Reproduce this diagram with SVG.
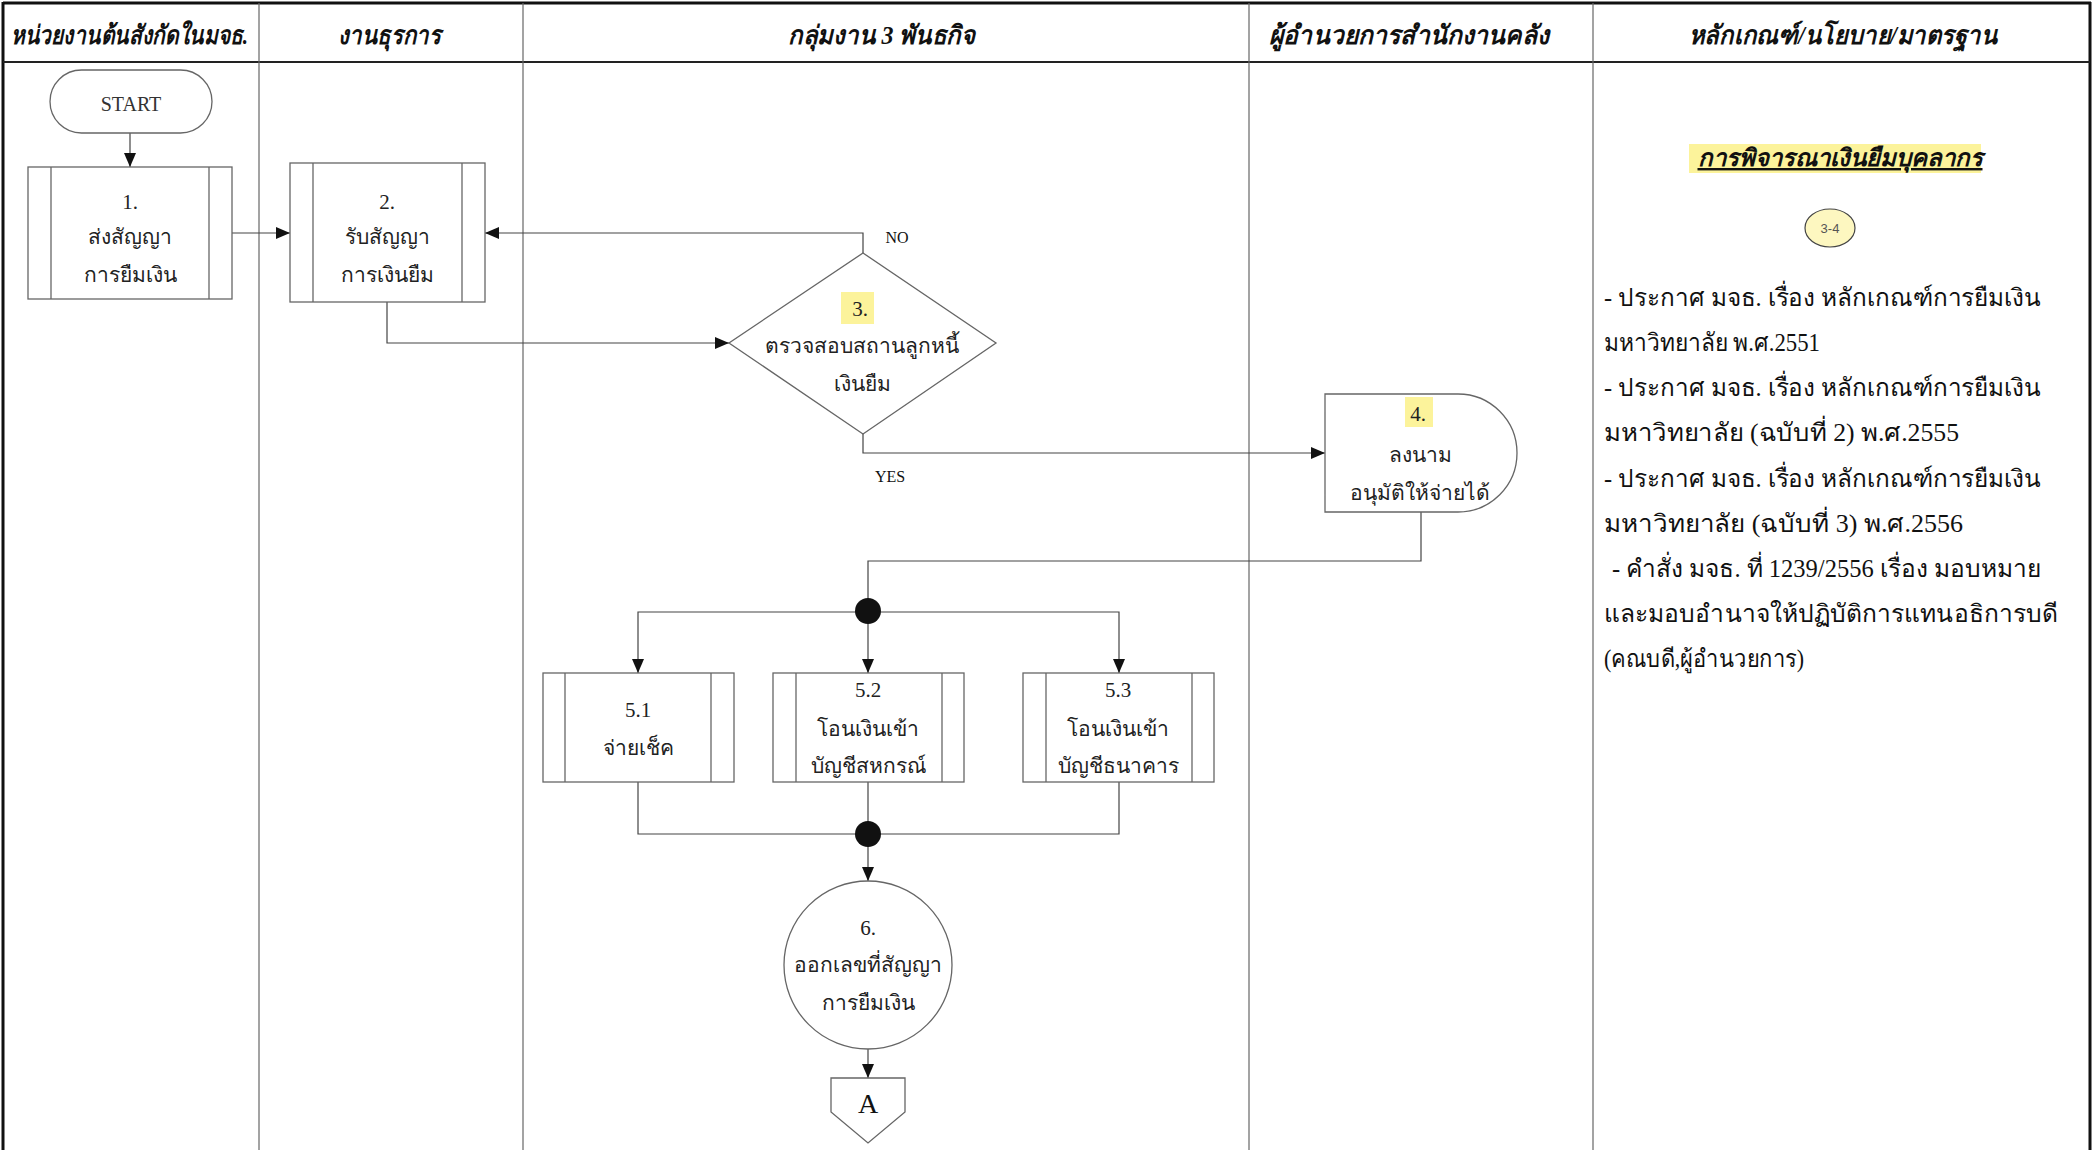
<svg xmlns="http://www.w3.org/2000/svg" width="2094" height="1150" viewBox="0 0 2094 1150">
<defs>
<style>
.frame{fill:none;stroke:#111;stroke-width:3}
.div{fill:none;stroke:#666;stroke-width:1.2}
.shape{fill:#fff;stroke:#666;stroke-width:1.3}
.conn{fill:none;stroke:#444;stroke-width:1.2}
.hdr{font-family:"Liberation Serif","Noto Sans",serif;font-size:26px;font-weight:bold;font-style:italic;fill:#111}
.t{font-family:"Liberation Serif","Noto Sans",serif;font-size:21px;fill:#222;text-anchor:middle}
.lbl{font-family:"Liberation Serif",serif;font-size:16px;fill:#111;text-anchor:middle}
.body{font-family:"Liberation Serif","Noto Sans",serif;font-size:24.5px;fill:#111}
.hl{fill:#fbf18a;opacity:0.85}
</style>
<marker id="ah" viewBox="0 0 14 12" refX="14" refY="6" markerWidth="14" markerHeight="12" markerUnits="userSpaceOnUse" orient="auto">
<path d="M0,0 L14,6 L0,12 Z" fill="#111"/>
</marker>
</defs>
<rect width="2094" height="1150" fill="#fff"/>

<g id="swimlanes">
<line class="frame" x1="3" y1="3" x2="2091" y2="3"/>
<line class="frame" x1="3" y1="2" x2="3" y2="1150"/>
<line class="frame" x1="2090" y1="2" x2="2090" y2="1150"/>
<line x1="3" y1="62" x2="2090" y2="62" stroke="#222" stroke-width="2"/>
<line class="div" x1="259" y1="3" x2="259" y2="1150"/>
<line class="div" x1="523" y1="3" x2="523" y2="1150"/>
<line class="div" x1="1249" y1="3" x2="1249" y2="1150"/>
<line class="div" x1="1593" y1="3" x2="1593" y2="1150"/>
<text class="hdr" x="11" y="44" textLength="237" lengthAdjust="spacingAndGlyphs">หน่วยงานต้นสังกัดในมจธ.</text>
<text class="hdr" x="338" y="44" textLength="103" lengthAdjust="spacingAndGlyphs">งานธุรการ</text>
<text class="hdr" x="788" y="44" textLength="187" lengthAdjust="spacingAndGlyphs">กลุ่มงาน 3 พันธกิจ</text>
<text class="hdr" x="1269" y="44" textLength="280" lengthAdjust="spacingAndGlyphs">ผู้อำนวยการสำนักงานคลัง</text>
<text class="hdr" x="1689" y="44" textLength="308" lengthAdjust="spacingAndGlyphs">หลักเกณฑ์/นโยบาย/มาตรฐาน</text>
</g>

<g id="connectors">
<line class="conn" x1="130" y1="133" x2="130" y2="167" marker-end="url(#ah)"/>
<line class="conn" x1="232" y1="233" x2="290" y2="233" marker-end="url(#ah)"/>
<polyline class="conn" points="863,253 863,233 485,233" marker-end="url(#ah)"/>
<polyline class="conn" points="387,302 387,343 729,343" marker-end="url(#ah)"/>
<polyline class="conn" points="863,434 863,453 1325,453" marker-end="url(#ah)"/>
<polyline class="conn" points="1421,512 1421,561 868,561 868,611"/>
<polyline class="conn" points="868,612 638,612 638,673" marker-end="url(#ah)"/>
<line class="conn" x1="868" y1="612" x2="868" y2="673" marker-end="url(#ah)"/>
<polyline class="conn" points="868,612 1119,612 1119,673" marker-end="url(#ah)"/>
<polyline class="conn" points="638,782 638,834 1119,834 1119,782"/>
<line class="conn" x1="868" y1="782" x2="868" y2="834"/>
<line class="conn" x1="868" y1="834" x2="868" y2="881" marker-end="url(#ah)"/>
<line class="conn" x1="868" y1="1049" x2="868" y2="1078" marker-end="url(#ah)"/>
<circle cx="868" cy="611" r="13" fill="#111"/>
<circle cx="868" cy="834" r="13" fill="#111"/>
<text class="lbl" x="897" y="243">NO</text>
<text class="lbl" x="890" y="482">YES</text>
</g>

<g id="start">
<rect class="shape" x="50" y="70" width="162" height="63" rx="31.5"/>
<text class="lbl" x="131" y="111" style="font-size:20px;fill:#333">START</text>
</g>

<g id="step1">
<rect class="shape" x="28" y="167" width="204" height="132"/>
<line class="shape" x1="51" y1="167" x2="51" y2="299"/>
<line class="shape" x1="209" y1="167" x2="209" y2="299"/>
<text class="t" x="130" y="209">1.</text>
<text class="t" x="130" y="244">ส่งสัญญา</text>
<text class="t" x="130" y="282">การยืมเงิน</text>
</g>

<g id="step2">
<rect class="shape" x="290" y="163" width="195" height="139"/>
<line class="shape" x1="313" y1="163" x2="313" y2="302"/>
<line class="shape" x1="462" y1="163" x2="462" y2="302"/>
<text class="t" x="387" y="209">2.</text>
<text class="t" x="387" y="244">รับสัญญา</text>
<text class="t" x="387" y="282">การเงินยืม</text>
</g>

<g id="step3">
<polygon class="shape" points="863,253 996,343 863,434 729,343"/>
<rect class="hl" x="841" y="292" width="33" height="32"/>
<text class="t" x="860" y="316">3.</text>
<text class="t" x="862" y="353">ตรวจสอบสถานลูกหนี้</text>
<text class="t" x="862" y="391">เงินยืม</text>
</g>

<g id="step4">
<path class="shape" d="M1325,394 H1458 A59,59 0 0 1 1458,512 H1325 Z"/>
<rect class="hl" x="1405" y="397" width="28" height="30"/>
<text class="t" x="1418" y="421">4.</text>
<text class="t" x="1420" y="462">ลงนาม</text>
<text class="t" x="1420" y="500">อนุมัติให้จ่ายได้</text>
</g>

<g id="step5-1">
<rect class="shape" x="543" y="673" width="191" height="109"/>
<line class="shape" x1="565" y1="673" x2="565" y2="782"/>
<line class="shape" x1="711" y1="673" x2="711" y2="782"/>
<text class="t" x="638" y="717">5.1</text>
<text class="t" x="638" y="755">จ่ายเช็ค</text>
</g>

<g id="step5-2">
<rect class="shape" x="773" y="673" width="191" height="109"/>
<line class="shape" x1="796" y1="673" x2="796" y2="782"/>
<line class="shape" x1="942" y1="673" x2="942" y2="782"/>
<text class="t" x="868" y="697">5.2</text>
<text class="t" x="868" y="736">โอนเงินเข้า</text>
<text class="t" x="868" y="773">บัญชีสหกรณ์</text>
</g>

<g id="step5-3">
<rect class="shape" x="1023" y="673" width="191" height="109"/>
<line class="shape" x1="1046" y1="673" x2="1046" y2="782"/>
<line class="shape" x1="1192" y1="673" x2="1192" y2="782"/>
<text class="t" x="1118" y="697">5.3</text>
<text class="t" x="1118" y="736">โอนเงินเข้า</text>
<text class="t" x="1118" y="773">บัญชีธนาคาร</text>
</g>

<g id="step6">
<circle class="shape" cx="868" cy="965" r="84"/>
<text class="t" x="868" y="935">6.</text>
<text class="t" x="868" y="972">ออกเลขที่สัญญา</text>
<text class="t" x="868" y="1010">การยืมเงิน</text>
</g>

<g id="connector-a">
<polygon class="shape" points="831,1078 905,1078 905,1112 868,1143 831,1112"/>
<text class="lbl" x="868" y="1113" style="font-size:28px">A</text>
</g>

<g id="policy">
<rect class="hl" x="1689" y="144" width="292" height="29"/>
<text x="1840" y="166" style="font-family:'Liberation Serif','Noto Sans',serif;font-size:24px;font-weight:bold;font-style:italic;text-anchor:middle;text-decoration:underline;fill:#111">การพิจารณาเงินยืมบุคลากร</text>
<ellipse cx="1830" cy="228" rx="25" ry="19" fill="#fdf7c0" stroke="#444" stroke-width="1.2"/>
<text x="1830" y="233" style="font-family:'Liberation Sans',sans-serif;font-size:13px;fill:#555;text-anchor:middle">3-4</text>
<text class="body" x="1604" y="306" textLength="437" lengthAdjust="spacingAndGlyphs">- ประกาศ มจธ. เรื่อง หลักเกณฑ์การยืมเงิน</text>
<text class="body" x="1604" y="351" textLength="216" lengthAdjust="spacingAndGlyphs">มหาวิทยาลัย พ.ศ.2551</text>
<text class="body" x="1604" y="396" textLength="437" lengthAdjust="spacingAndGlyphs">- ประกาศ มจธ. เรื่อง หลักเกณฑ์การยืมเงิน</text>
<text class="body" x="1604" y="441" textLength="355" lengthAdjust="spacingAndGlyphs">มหาวิทยาลัย (ฉบับที่ 2) พ.ศ.2555</text>
<text class="body" x="1604" y="487" textLength="437" lengthAdjust="spacingAndGlyphs">- ประกาศ มจธ. เรื่อง หลักเกณฑ์การยืมเงิน</text>
<text class="body" x="1604" y="532" textLength="359" lengthAdjust="spacingAndGlyphs">มหาวิทยาลัย (ฉบับที่ 3) พ.ศ.2556</text>
<text class="body" x="1612" y="577" textLength="429" lengthAdjust="spacingAndGlyphs">- คำสั่ง มจธ. ที่ 1239/2556 เรื่อง มอบหมาย</text>
<text class="body" x="1604" y="622" textLength="454" lengthAdjust="spacingAndGlyphs">และมอบอำนาจให้ปฏิบัติการแทนอธิการบดี</text>
<text class="body" x="1604" y="667" textLength="200" lengthAdjust="spacingAndGlyphs">(คณบดี,ผู้อำนวยการ)</text>
</g>
</svg>
